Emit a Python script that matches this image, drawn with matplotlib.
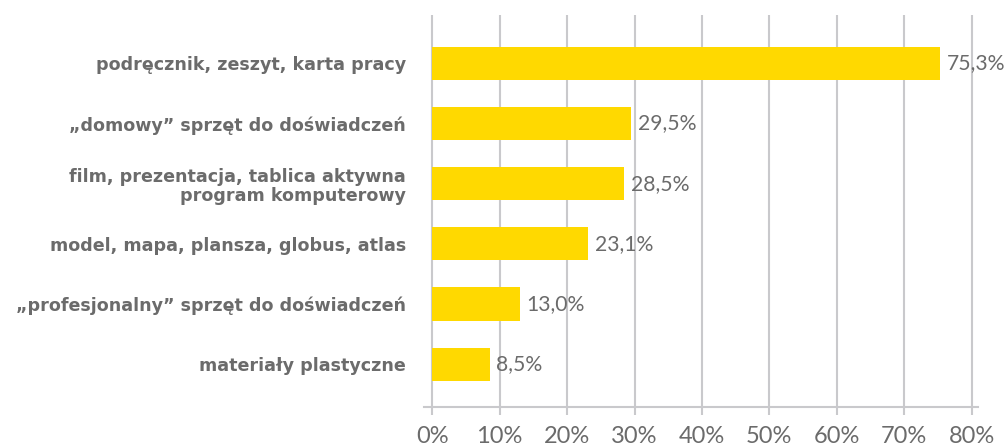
import matplotlib.pyplot as plt
import numpy as np

categories = [
    "podręcznik, zeszyt, karta pracy",
    "\u201edomowy\u201d sprzęt do doświadczeń",
    "film, prezentacja, tablica aktywna\nprogram komputerowy",
    "model, mapa, plansza, globus, atlas",
    "\u201eprofesjonalny\u201d sprzęt do doświadczeń",
    "materiały plastyczne",
]
values = [75.3, 29.5, 28.5, 23.1, 13.0, 8.5]
xticks = [0, 10, 20, 30, 40, 50, 60, 70, 80]

yellow = "#FFD900"
grey_text = "#6b6b6b"
grid_col = "#c9c9cc"

plt.rcParams['font.family'] = ['Lato', 'DejaVu Sans']

fig = plt.figure(figsize=(10.06, 4.48), dpi=100)
ax = fig.add_axes([424.2 / 1006, 1 - 407 / 448, 553.4 / 1006, (407 - 15) / 448])

y = np.arange(len(categories))
ax.barh(y, values, height=0.55, color=yellow, zorder=2)

for yi, v in zip(y, values):
    ax.text(v + 1.0, yi, f"{v:.1f}%".replace(".", ","), va="center", ha="left",
            fontsize=15.2, color=grey_text, zorder=3)

ax.set_xlim(-1.2, 80.9)
ax.set_ylim(len(categories) - 1 + 0.71, -0.8)
ax.set_xticks(xticks)
ax.set_xticklabels([f"{t}%" for t in xticks], fontsize=17, color=grey_text)
ax.set_yticks(y)
ax.set_yticklabels(categories, fontsize=12.6, fontweight="bold", color=grey_text,
                   family=['DejaVu Sans'], linespacing=1.1)

ax.xaxis.grid(True, color=grid_col, linewidth=1.5, zorder=0)
ax.set_axisbelow(True)
for s in ["top", "right", "left"]:
    ax.spines[s].set_visible(False)
ax.spines["bottom"].set_color(grid_col)
ax.spines["bottom"].set_linewidth(1.5)
ax.tick_params(axis="y", length=0, pad=13)
ax.tick_params(axis="x", length=6, width=1.5, color=grid_col, pad=8)

fig.savefig("out.png", dpi=100, facecolor="white")
